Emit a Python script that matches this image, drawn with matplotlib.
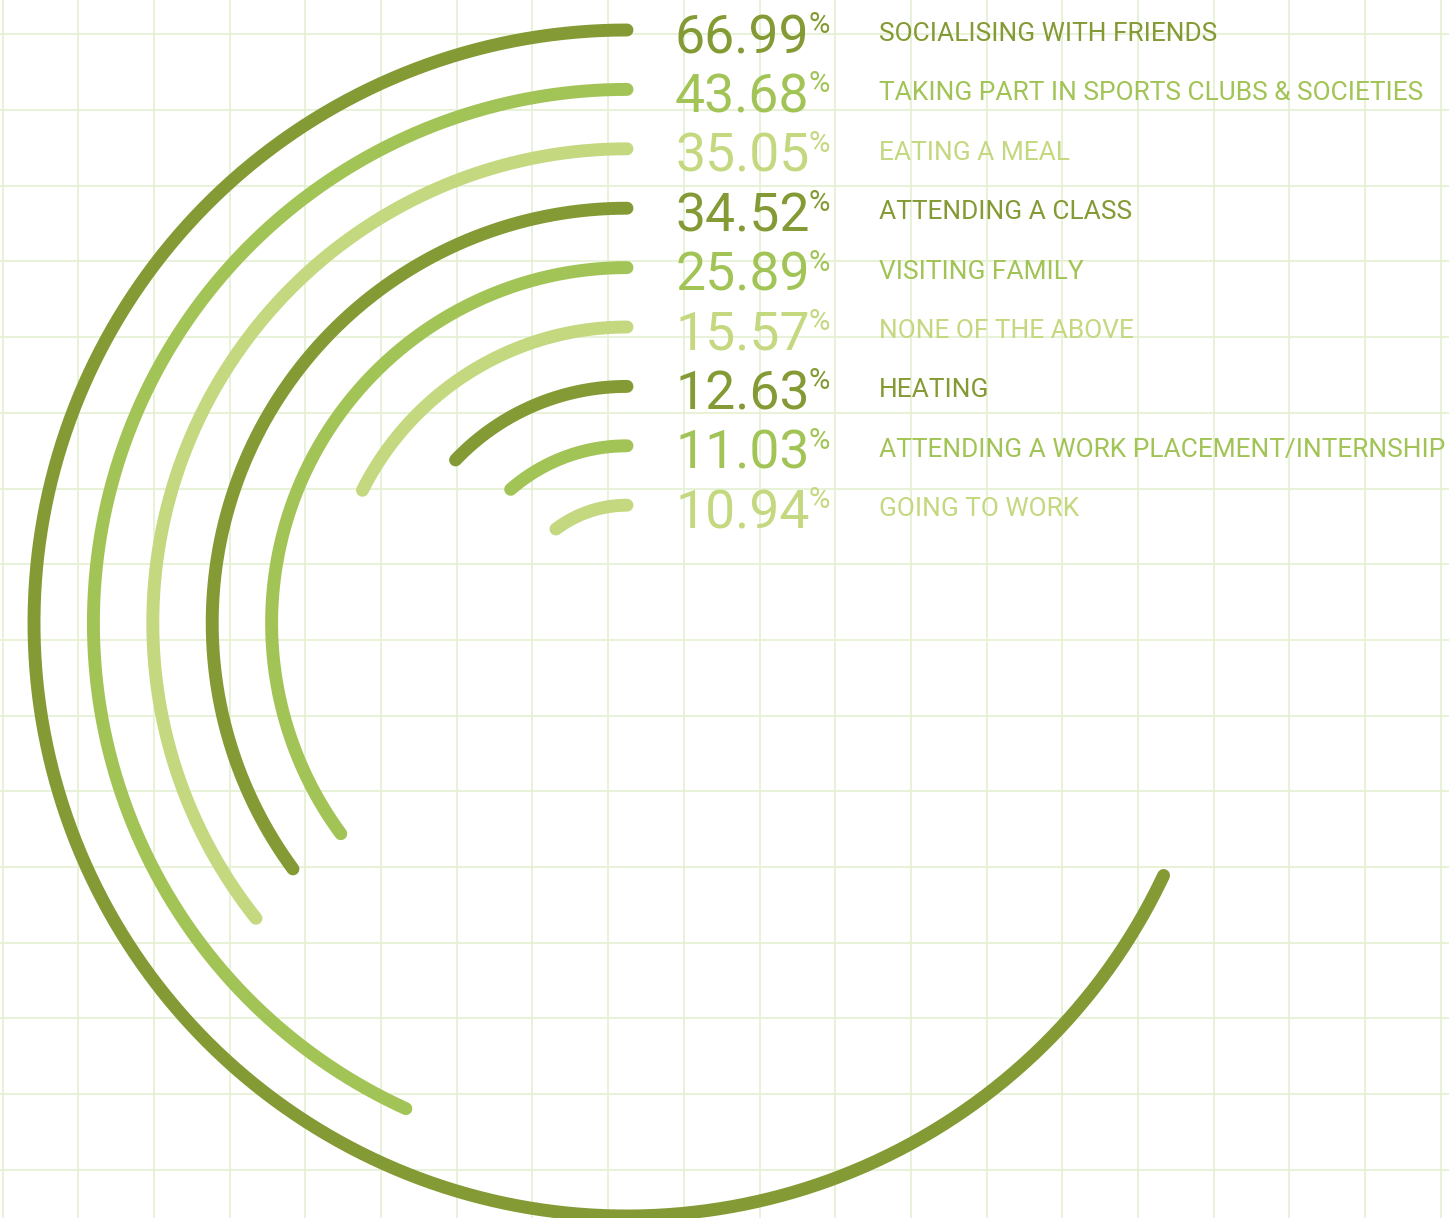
import numpy as np
import matplotlib.pyplot as plt

# datos (porcentajes de respuesta)
valores = [66.99, 43.68, 35.05, 34.52, 25.89, 15.57, 12.63, 11.03, 10.94]
# recorrido de cada arco (% de la vuelta)
recorrido = [68.0, 43.2, 35.7, 35.1, 35.1, 17.6, 12.9, 11.4, 10.3]
etiquetas = ['SOCIALISING WITH FRIENDS',
             'TAKING PART IN SPORTS CLUBS & SOCIETIES',
             'EATING A MEAL',
             'ATTENDING A CLASS',
             'VISITING FAMILY',
             'NONE OF THE ABOVE',
             'HEATING',
             'ATTENDING A WORK PLACEMENT/INTERNSHIP',
             'GOING TO WORK']
colores = ['#849A34', '#A2C456', '#C4D880']

W, H = 1449, 1218
cx, cy = 627, 623      # centro de los arcos (px)
r_ext = 593            # radio del arco exterior
paso = 59.4            # separacion entre arcos

plt.rcParams['font.family'] = ['Roboto', 'DejaVu Sans']

fig = plt.figure(figsize=(W / 100, H / 100), dpi=100)

# fondo con cuadricula
fondo = fig.add_axes([0, 0, 1, 1])
fondo.set_xlim(0, W)
fondo.set_ylim(H, 0)
fondo.set_xticks(np.arange(2.5, W, 75.7))
fondo.set_yticks(np.arange(34.3, H, 75.7))
fondo.grid(True, color='#E6F1D4', lw=1.3)
fondo.tick_params(length=0, labelbottom=False, labelleft=False)
for s in fondo.spines.values():
    s.set_visible(False)

# ejes polares para los arcos
R = 640
polar = fig.add_axes([(cx - R) / W, (H - cy - R) / H, 2 * R / W, 2 * R / H],
                     projection='polar')
polar.set_theta_zero_location('N')
polar.set_theta_direction(1)
polar.set_ylim(0, R)
polar.axis('off')

for i, v in enumerate(valores):
    c = colores[i % 3]
    r = r_ext - i * paso
    theta = np.linspace(0, recorrido[i] / 100 * 2 * np.pi, 400)
    polar.plot(theta, np.full_like(theta, r), color=c, lw=9.3,
               solid_capstyle='round')

    y_fila = cy - r
    num = fondo.text(675, y_fila + 23, f'{v:.2f}', fontsize=38.5, color=c,
                     va='baseline', ha='left')
    fondo.annotate('%', xy=(1, 1), xycoords=num, xytext=(-0.5, 1.5),
                   textcoords='offset points', fontsize=21, color=c,
                   va='top', ha='left')
    fondo.text(879, y_fila + 11, etiquetas[i], fontsize=18.9, color=c,
               va='baseline', ha='left')

plt.savefig('out.png', dpi=100)
